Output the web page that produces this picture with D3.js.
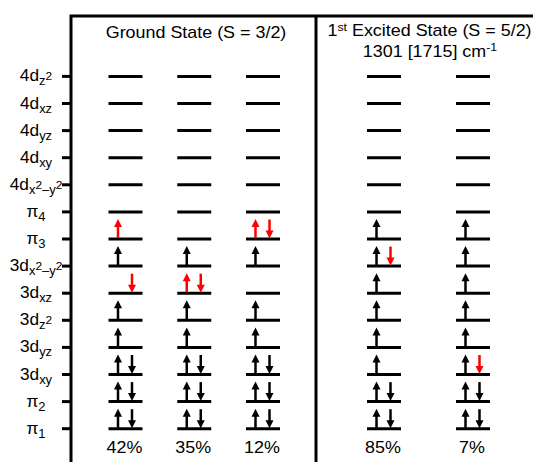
<!DOCTYPE html>
<html>
<head>
<meta charset="utf-8">
<script src="https://cdn.jsdelivr.net/npm/d3@7"></script>
<style>
  html, body { margin: 0; padding: 0; background: #fff; }
  svg { display: block; font-family: Arial, "Liberation Sans", sans-serif; }
</style>
</head>
<body>
<svg id="chart" width="533" height="462"></svg>
<script>
// ---------- data ----------
const orbitals = ["4dz2","4dxz","4dyz","4dxy","4dx2-y2","pi4","pi3","3dx2-y2","3dxz","3dz2","3dyz","3dxy","pi2","pi1"];

// label pieces: [text, kind]  kind: "n" normal, "b" subscript, "p" raised within subscript
const orbitalLabels = [
  [["4d","n"],["z","b"],["2","p"]],
  [["4d","n"],["xz","b"]],
  [["4d","n"],["yz","b"]],
  [["4d","n"],["xy","b"]],
  [["4d","n"],["x","b"],["2","p"],["\u2013y","b"],["2","p"]],
  [["\u03c0","n"],["4","b"]],
  [["\u03c0","n"],["3","b"]],
  [["3d","n"],["x","b"],["2","p"],["\u2013y","b"],["2","p"]],
  [["3d","n"],["xz","b"]],
  [["3d","n"],["z","b"],["2","p"]],
  [["3d","n"],["yz","b"]],
  [["3d","n"],["xy","b"]],
  [["\u03c0","n"],["2","b"]],
  [["\u03c0","n"],["1","b"]]
];

const groupTitles = ["Ground State (S = 3/2)", "1st Excited State (S = 5/2)"];
const excitedEnergy = "1301 [1715] cm-1";

const groundConfigs = ["g1","g2","g3"];
const excitedConfigs = ["e1","e2"];
const percents = { g1: "42%", g2: "35%", g3: "12%", e1: "85%", e2: "7%" };

// electrons: [orbital, spin, highlighted]
const electrons_g1 = [
  ["pi3","up",true],["3dx2-y2","up",false],["3dxz","down",true],["3dz2","up",false],["3dyz","up",false],
  ["3dxy","up",false],["3dxy","down",false],["pi2","up",false],["pi2","down",false],["pi1","up",false],["pi1","down",false]
];
const electrons_g2 = [
  ["3dx2-y2","up",false],["3dxz","up",true],["3dxz","down",true],["3dz2","up",false],["3dyz","up",false],
  ["3dxy","up",false],["3dxy","down",false],["pi2","up",false],["pi2","down",false],["pi1","up",false],["pi1","down",false]
];
const electrons_g3 = [
  ["pi3","up",true],["pi3","down",true],["3dx2-y2","up",false],["3dz2","up",false],["3dyz","up",false],
  ["3dxy","up",false],["3dxy","down",false],["pi2","up",false],["pi2","down",false],["pi1","up",false],["pi1","down",false]
];
const electrons_e1 = [
  ["pi3","up",false],["3dx2-y2","up",false],["3dx2-y2","down",true],["3dxz","up",false],["3dz2","up",false],["3dyz","up",false],
  ["3dxy","up",false],["pi2","up",false],["pi2","down",false],["pi1","up",false],["pi1","down",false]
];
const electrons_e2 = [
  ["pi3","up",false],["3dx2-y2","up",false],["3dxz","up",false],["3dz2","up",false],["3dyz","up",false],
  ["3dxy","up",false],["3dxy","down",true],["pi2","up",false],["pi2","down",false],["pi1","up",false],["pi1","down",false]
];
const electronsByConfig = { g1: electrons_g1, g2: electrons_g2, g3: electrons_g3, e1: electrons_e1, e2: electrons_e2 };

// ---------- drawing ----------
const svg = d3.select("#chart");
const W = 533, H = 462;
const axisX = 71, divX = 316, topY = 16;
const SX = 1.12;      // horizontal stretch of the reference's text
const SXL = 1.08;

const y = d3.scalePoint().domain(orbitals).range([76.4, 428.7]);
const xGround = d3.scalePoint().domain(groundConfigs).range([125.5, 263]);
const xExcited = d3.scalePoint().domain(excitedConfigs).range([384, 473]);
const xOf = c => groundConfigs.includes(c) ? xGround(c) : xExcited(c);
const allConfigs = groundConfigs.concat(excitedConfigs);

function textAt(parent, x, yy, sx) {
  return parent.append("text").attr("transform", `translate(${x},${yy}) scale(${sx},1)`)
    .attr("text-anchor", "middle");
}

// frame
svg.append("path")
  .attr("d", `M${axisX},${H} V${topY} H${W} M${divX},${topY} V${H}`)
  .attr("fill", "none").attr("stroke", "#000").attr("stroke-width", 3);

// axis ticks
svg.append("g").selectAll("line").data(orbitals).join("line")
  .attr("x1", 62).attr("x2", axisX).attr("y1", d => y(d)).attr("y2", d => y(d))
  .attr("stroke", "#000").attr("stroke-width", 3);

// orbital labels
const lab = svg.append("g").attr("font-size", 16).attr("fill", "#000");
orbitals.forEach((o, i) => {
  const t = textAt(lab, 36, y(o) + 5, SXL);
  let level = 0;
  orbitalLabels[i].forEach(([s, k]) => {
    let target, size;
    if (k === "n") { target = 0; size = 16; }
    else if (k === "b") { target = 4; size = 12; }
    else { target = -1; size = 11; }
    t.append("tspan").attr("dy", target - level).attr("font-size", size).text(s);
    level = target;
  });
});

// titles
textAt(svg, 196, 37.5, SX).attr("font-size", 16).text(groupTitles[0]);
{
  const parts = groupTitles[1].match(/^(\d)(st)(.*)$/);
  const t = textAt(svg, 429.5, 36, SX).attr("font-size", 16);
  t.append("tspan").text(parts[1]);
  t.append("tspan").attr("font-size", 11).attr("dy", -5).text(parts[2]);
  t.append("tspan").attr("dy", 5).text(parts[3]);
  const e = excitedEnergy.match(/^(.*cm)(-1)$/);
  const t2 = textAt(svg, 430, 57, SX).attr("font-size", 16);
  t2.append("tspan").text(e[1]);
  t2.append("tspan").attr("font-size", 11).attr("dy", -6).text(e[2]);
}

// energy levels
const half = 17;
const levels = [];
allConfigs.forEach(c => orbitals.forEach(o => levels.push({ c, o })));
svg.append("g").selectAll("line").data(levels).join("line")
  .attr("x1", d => xOf(d.c) - half).attr("x2", d => xOf(d.c) + half)
  .attr("y1", d => y(d.o)).attr("y2", d => y(d.o))
  .attr("stroke", "#000").attr("stroke-width", 3);

// electrons (arrows)
const arrows = [];
allConfigs.forEach(c => electronsByConfig[c].forEach(([o, spin, hl]) => arrows.push({ c, o, spin, hl })));
const ag = svg.append("g");
const arrowLen = 20, headH = 8, headW = 8;
arrows.forEach(d => {
  const col = d.hl ? "#ff0000" : "#000";
  const ly = y(d.o);
  const g = ag.append("g");
  if (d.spin === "up") {
    const ax = xOf(d.c) - half + 9.5;
    const tip = ly - arrowLen;
    g.append("line").attr("x1", ax).attr("x2", ax).attr("y1", ly - 1).attr("y2", tip + headH - 1)
      .attr("stroke", col).attr("stroke-width", 2.5);
    g.append("path").attr("d", `M${ax},${tip} L${ax - headW / 2},${tip + headH} L${ax + headW / 2},${tip + headH} Z`)
      .attr("fill", col);
  } else {
    const ax = xOf(d.c) - half + 23.5;
    const top = ly - arrowLen + 0.5;
    const tip = ly - 0.5;
    g.append("line").attr("x1", ax).attr("x2", ax).attr("y1", top).attr("y2", tip - headH + 1)
      .attr("stroke", col).attr("stroke-width", 2.5);
    g.append("path").attr("d", `M${ax},${tip} L${ax - headW / 2},${tip - headH} L${ax + headW / 2},${tip - headH} Z`)
      .attr("fill", col);
  }
});

// percentages
const pg = svg.append("g").attr("font-size", 16);
allConfigs.forEach(c => textAt(pg, xOf(c) - 1, 453, SX).text(percents[c]));
</script>
</body>
</html>
